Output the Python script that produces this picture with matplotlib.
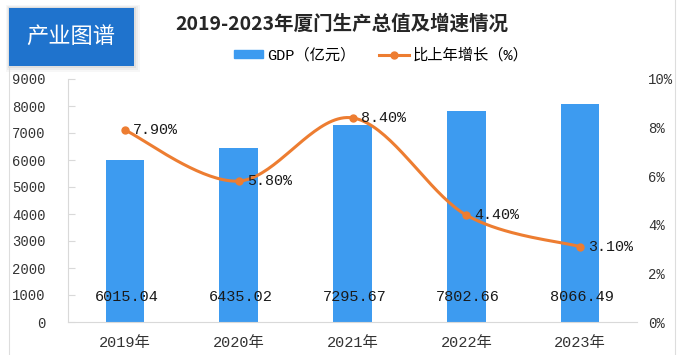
import matplotlib
matplotlib.use('Agg')
import matplotlib.pyplot as plt
from matplotlib.patches import Rectangle
from matplotlib.lines import Line2D
import numpy as np

# data
years = ['2019年', '2020年', '2021年', '2022年', '2023年']
gdp = [6015.04, 6435.02, 7295.67, 7802.66, 8066.49]
growth = [7.9, 5.8, 8.4, 4.4, 3.1]
left_ticks = [0, 1000, 2000, 3000, 4000, 5000, 6000, 7000, 8000, 9000]
right_ticks = [0, 2, 4, 6, 8, 10]

BLUE = '#3D9BF0'
ORANGE = '#ED7D31'
MONO = ['Liberation Mono', 'Noto Sans CJK SC']
CJK = 'Noto Sans CJK SC'
W, H = 686, 355


def smooth_line(xs, ys, steps=40):
    # excel-like smoothed line: cubic bezier through the points
    pts = np.column_stack([xs, ys]).astype(float)
    n = len(pts)
    out = []
    for i in range(n - 1):
        p0 = pts[max(i - 1, 0)]
        p1 = pts[i]
        p2 = pts[i + 1]
        p3 = pts[min(i + 2, n - 1)]
        c1 = p1 + (p2 - p0) / 6
        c2 = p2 - (p3 - p1) / 6
        t = np.linspace(0, 1, steps)[:, None]
        seg = (1 - t) ** 3 * p1 + 3 * (1 - t) ** 2 * t * c1 + 3 * (1 - t) * t ** 2 * c2 + t ** 3 * p2
        out.append(seg if i == 0 else seg[1:])
    out = np.vstack(out)
    return out[:, 0], out[:, 1]


fig = plt.figure(figsize=(W / 100, H / 100), dpi=100)

# frame lines
fig.add_artist(Line2D([9 / W, 9 / W], [0, 1 - 66 / H], transform=fig.transFigure, color='#dddddd', lw=0.8))
fig.add_artist(Line2D([675 / W, 675 / W], [0, 1], transform=fig.transFigure, color='#dddddd', lw=0.8))

# badge with soft shadow
for k, a in [(6, 0.03), (4, 0.04), (2, 0.06)]:
    fig.patches.append(Rectangle(((9 - k / 2) / W, (H - 66 - k) / H), (125 + k * 1.5) / W, (58 + k * 1.5) / H,
                                 transform=fig.transFigure, color='black', alpha=a, lw=0))
fig.patches.append(Rectangle((9 / W, (H - 66) / H), 125 / W, 58 / H, transform=fig.transFigure,
                             color='#1F73CD', lw=0))
fig.text(71 / W, 1 - 37 / H, '产业图谱', color='white', fontsize=16, ha='center', va='center', family=CJK)

fig.text(342 / W, 1 - 24 / H, '2019-2023年厦门生产总值及增速情况', ha='center', va='center',
         fontsize=14, fontweight='bold', family=CJK, color='#262626')

ax = fig.add_axes([68 / W, 33 / H, 569 / W, 243 / H])
x = np.arange(len(years))
ax.bar(x, gdp, width=0.34, color=BLUE, zorder=2)
ax.set_xlim(-0.5, len(years) - 0.5)
ax.set_ylim(0, 9000)
ax.set_yticks(left_ticks)
ax.set_yticklabels([str(v) for v in left_ticks], family=MONO, fontsize=10, color='#333333')
ax.set_xticks(x)
ax.set_xticklabels(years, family=MONO, fontsize=11, color='#333333')
ax.tick_params(axis='y', direction='in', length=5, color='#d9d9d9', pad=16)
ax.tick_params(axis='x', length=0, pad=10)
for s in ['top', 'right']:
    ax.spines[s].set_visible(False)
ax.spines['left'].set_color('#d9d9d9')
ax.spines['bottom'].set_color('#d9d9d9')

for i, v in enumerate(gdp):
    ax.annotate(f'{v:.2f}', (i, 0), xytext=(2, 25), textcoords='offset pixels', ha='center', va='center',
                family=MONO, fontsize=11, color='#1a1a1a', zorder=3)

ax2 = ax.twinx()
ax2.set_ylim(0, 10)
ax2.set_yticks(right_ticks)
ax2.set_yticklabels([f'{v}%' for v in right_ticks], family=MONO, fontsize=10, color='#333333')
ax2.tick_params(axis='y', length=0, pad=8)
for s in ax2.spines.values():
    s.set_visible(False)

sx, sy = smooth_line(x, growth)
ax2.plot(sx, sy, color=ORANGE, lw=2.2, solid_capstyle='round')
ax2.plot(x, growth, 'o', color=ORANGE, ms=5)
for i, g in enumerate(growth):
    ax2.annotate(f'{g:.2f}%', (i, g), xytext=(8, 0), textcoords='offset pixels', ha='left', va='center',
                 family=MONO, fontsize=10.8, color='#1a1a1a')

handles = [Rectangle((0, 0), 1, 1, color=BLUE),
           Line2D([], [], color=ORANGE, lw=2.2, marker='o', ms=5)]
fig.legend(handles, ['GDP（亿元）', '比上年增长（%）'], loc='center', bbox_to_anchor=(381 / W, 1 - 55 / H),
           ncol=2, frameon=False, prop={'family': MONO, 'size': 11}, handlelength=1.9, handleheight=0.45,
           handletextpad=0.25, columnspacing=1.6)

fig.savefig('out.png', dpi=100)
